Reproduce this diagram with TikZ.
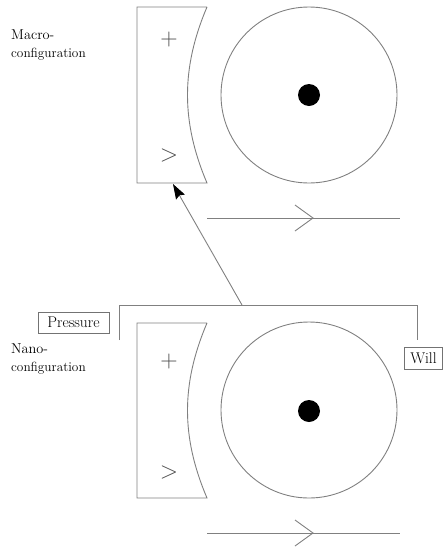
\documentclass[tikz,border=0pt]{standalone}
\usetikzlibrary{arrows.meta}
\definecolor{lin}{gray}{0.5}
\definecolor{boxc}{gray}{0.45}
\tikzset{
  ln/.style={draw=lin, line width=0.9pt},
  lbl/.style={anchor=base west, inner sep=0pt, font=\fontsize{14.3}{14.3}\selectfont},
  lbls/.style={anchor=base west, inner sep=0pt, font=\fontsize{13.3}{13.3}\selectfont},
  tag/.style={draw=boxc, line width=0.9pt, inner sep=0pt, font=\fontsize{15.5}{15.5}\selectfont, minimum height=21pt},
  sym/.style={anchor=base, inner sep=0pt, text=black!70, font=\fontsize{24}{24}\selectfont},
  dot/.style={circle, fill=black, inner sep=0pt, minimum size=22pt},
  wheel/.style={circle, ln, inner sep=0pt, minimum size=176pt}
}
\begin{document}
\begin{tikzpicture}[x=1pt, y=-1pt]
\useasboundingbox (0,0) rectangle (443,547);
% ---------- top (macro) ----------
\node[lbl] (macro) at (11,39) {Macro-};
\node[lbls] (macroc) at (11,57) {configuration};
\draw[ln] (207,7) -- (137,7) -- (137,183) -- (207,183)
  .. controls (181,122) and (181,68) .. (207,7);
\coordinate (tb) at (173,184);
\node[sym] (tplus) at (169,45) {+};
\node[sym] (tgt) at (169,161) {>};
\node[wheel] (tw) at (309,95) {};
\node[dot] (td) at (309,95) {};
\coordinate (tl1) at (207,218);
\coordinate (tl2) at (400,218);
\draw[ln] (tl1) -- (tl2);
\draw[ln] (295,205) -- (313,218) -- (295,231);
% ---------- bracket ----------
\coordinate (bl) at (119,340);
\coordinate (blt) at (119,305);
\coordinate (brt) at (417,305);
\coordinate (br) at (417,340);
\coordinate (bj) at (242,305);
\draw[ln] (bl) -- (blt) -- (brt) -- (br);
\draw[ln, -{Stealth[length=15pt, width=10pt, inset=2pt, fill=black, color=black]}] (bj) -- (tb);
\node[tag, minimum width=71pt] (press) at (73.5,322.5) {Pressure};
\node[tag, minimum width=38pt, minimum height=22pt] (will) at (423.5,358) {Will};
% ---------- bottom (nano) ----------
\node[lbl] (nano) at (11,353) {Nano-};
\node[lbls] (nanoc) at (11,371) {configuration};
\draw[ln] (207,323) -- (137,323) -- (137,498) -- (207,498)
  .. controls (181,437) and (181,384) .. (207,323);
\node[sym] (bplus) at (169,367) {+};
\node[sym] (bgt) at (169,478) {>};
\node[wheel] (bw) at (309,410) {};
\node[dot] (bd) at (309,411) {};
\coordinate (bl1) at (207,533);
\coordinate (bl2) at (400,533);
\draw[ln] (bl1) -- (bl2);
\draw[ln] (295,520) -- (313,533) -- (295,546);
\end{tikzpicture}
\end{document}
